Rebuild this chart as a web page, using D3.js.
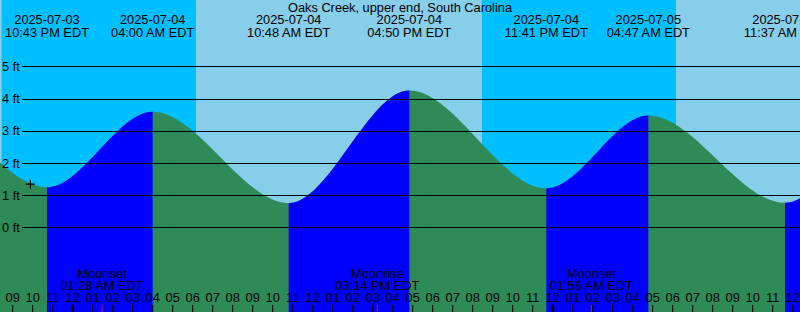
<!DOCTYPE html>
<html>
<head>
<meta charset="utf-8">
<script src="https://cdn.jsdelivr.net/npm/d3@7"></script>
<style>
  body { margin: 0; background: #fff; }
  svg { display: block; font-family: "Liberation Sans", Arial, sans-serif; font-size: 12.8px; }
</style>
</head>
<body>
<svg id="svg" width="800" height="312"></svg>
<script>
// tide extremes (first and last two are off the chart, only shape the edges)
var tideTimes = [
    new Date(2025, 6, 3, 9, 40),
    new Date(2025, 6, 3, 15, 43),
    new Date(2025, 6, 3, 22, 43),
    new Date(2025, 6, 4, 4, 0),
    new Date(2025, 6, 4, 10, 48),
    new Date(2025, 6, 4, 16, 50),
    new Date(2025, 6, 4, 23, 41),
    new Date(2025, 6, 5, 4, 47),
    new Date(2025, 6, 5, 11, 37),
    new Date(2025, 6, 5, 17, 40),
    new Date(2025, 6, 5, 23, 50)
];
var tideHeights = [0.8, 4.2, 1.24, 3.59, 0.75, 4.25, 1.21, 3.47, 0.76, 4.2, 1.2];
var tideType = ["L", "H", "L", "H", "L", "H", "L", "H", "L", "H", "L"];

// sunset / sunrise
var nightStart = [new Date(2025, 6, 3, 20, 27), new Date(2025, 6, 4, 20, 28)];
var nightEnd = [new Date(2025, 6, 4, 6, 10), new Date(2025, 6, 5, 6, 10)];

// moon events
var moonNames = ["Moonset", "Moonrise", "Moonset"];
var moonTimes = [new Date(2025, 6, 4, 1, 28), new Date(2025, 6, 4, 15, 14), new Date(2025, 6, 5, 1, 56)];

var feetTicks = [0, 1, 2, 3, 4, 5];
var nowMark = {t: new Date(2025, 6, 3, 21, 53), h: 1.34};

var title = "Oaks Creek, upper end, South Carolina";

var svg = d3.select("#svg");
var W = 800, H = 312;

var x = d3.scaleTime()
    .domain([new Date(2025, 6, 3, 20, 22), new Date(2025, 6, 5, 12, 22)])
    .range([0, W]);
var y = d3.scaleLinear().domain([0, 5]).range([227.3, 66.3]);

var tide = tideTimes.map(function(t, i){ return {t: t, h: tideHeights[i], type: tideType[i]}; });

//day background, night bands
svg.append("rect").attr("width", W).attr("height", H).attr("fill", "#87ceeb");
svg.selectAll("rect.night").data(nightStart).enter()
    .append("rect").classed("night", true)
    .attr("x", function(d){ return x(d); })
    .attr("width", function(d, i){ return x(nightEnd[i]) - x(d); })
    .attr("y", 0).attr("height", H)
    .attr("fill", "#00bfff");

//clip for rising tide
var rising = [];
for (let i = 0; i < tide.length - 1; i++) {
    if (tide[i].type == "L") rising.push([tide[i].t, tide[i + 1].t]);
}
svg.append("clipPath").attr("id", "flood")
    .selectAll("rect").data(rising).enter()
    .append("rect")
    .attr("x", function(d){ return x(d[0]); })
    .attr("width", function(d){ return x(d[1]) - x(d[0]); })
    .attr("y", 0).attr("height", H);

var area = d3.area()
    .x(function(d){ return x(d.t); })
    .y0(H)
    .y1(function(d){ return y(d.h); })
    .curve(d3.curveMonotoneX);

svg.append("path").datum(tide).attr("d", area).attr("fill", "#2e8b57");
svg.append("path").datum(tide).attr("d", area).attr("fill", "#0000ff")
    .attr("clip-path", "url(#flood)");

//grid lines in feet
var grid = svg.append("g");
grid.selectAll("line").data(feetTicks).enter()
    .append("line")
    .attr("x1", 22).attr("x2", W)
    .attr("y1", function(d){ return Math.round(y(d)) + 0.5; })
    .attr("y2", function(d){ return Math.round(y(d)) + 0.5; })
    .attr("stroke", "#000").attr("stroke-width", 1.2);
grid.selectAll("text").data(feetTicks).enter()
    .append("text")
    .attr("x", 2)
    .attr("y", function(d){ return y(d) + 4.6; })
    .text(function(d){ return d + " ft"; });

//now marker
var mx = x(nowMark.t), my = y(nowMark.h);
svg.append("path")
    .attr("d", "M" + (mx - 4.5) + "," + my + "H" + (mx + 4.5) + "M" + mx + "," + (my - 4.5) + "V" + (my + 4.5))
    .attr("stroke", "#000").attr("stroke-width", 1.2);

//title
svg.append("text").attr("x", W / 2).attr("y", 11.7)
    .attr("text-anchor", "middle").text(title);

//extreme labels at top
var fmtDate = d3.timeFormat("%Y-%m-%d");
var fmtTime = d3.timeFormat("%I:%M %p EDT");
var shown = tide.filter(function(d){ return d.t >= x.domain()[0] && d.t <= x.domain()[1]; });
var labelGrp = svg.append("g").attr("text-anchor", "middle");
labelGrp.selectAll("text.date").data(shown).enter()
    .append("text").classed("date", true)
    .attr("x", function(d){ return x(d.t); }).attr("y", 24)
    .text(function(d){ return fmtDate(d.t); });
labelGrp.selectAll("text.time").data(shown).enter()
    .append("text").classed("time", true)
    .attr("x", function(d){ return x(d.t); }).attr("y", 36.5)
    .text(function(d){ return fmtTime(d.t); });

//moon labels
var moon = svg.append("g").attr("text-anchor", "middle");
moon.selectAll("text.name").data(moonTimes).enter()
    .append("text").classed("name", true)
    .attr("x", function(d){ return x(d); }).attr("y", 278)
    .text(function(d, i){ return moonNames[i]; });
moon.selectAll("text.time").data(moonTimes).enter()
    .append("text").classed("time", true)
    .attr("x", function(d){ return x(d); }).attr("y", 289.5)
    .text(function(d){ return fmtTime(d); });

//hour axis
var hours = d3.timeHour.range(x.domain()[0], x.domain()[1]);
var axis = svg.append("g");
axis.selectAll("text").data(hours).enter()
    .append("text")
    .attr("x", function(d){ return x(d); }).attr("y", 302)
    .attr("text-anchor", "middle")
    .text(function(d){ return d3.timeFormat("%I")(d); });
axis.selectAll("line").data(hours).enter()
    .append("line")
    .attr("x1", function(d){ return x(d); }).attr("x2", function(d){ return x(d); })
    .attr("y1", 305).attr("y2", H)
    .attr("stroke", "#000")
    .attr("stroke-width", function(d){ return d.getHours() == 0 ? 3 : 1; });
axis.selectAll("line.moon").data(moonTimes).enter()
    .append("line").classed("moon", true)
    .attr("x1", function(d){ return x(d); }).attr("x2", function(d){ return x(d); })
    .attr("y1", 305).attr("y2", H)
    .attr("stroke", "#ff0000").attr("stroke-width", 1);
</script>
</body>
</html>
